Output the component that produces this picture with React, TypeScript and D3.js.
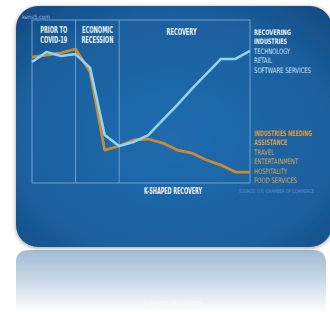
import React from 'react';
import * as d3 from 'd3';

// periods: 0-3 prior to covid, 3-6 recession, 6-15 recovery
const periods = d3.range(16);
const recovering = [74.2, 80.4, 77.9, 79.1, 70.6, 29.4, 22.7, 25.2, 29.4, 38.7, 47.9, 57.7, 66.9, 76.1, 76.1, 81.0];
const needing = [77.3, 78.5, 79.8, 82.2, 68.1, 20.2, 22.7, 26.4, 27.0, 24.5, 20.2, 18.4, 14.1, 11.0, 6.7, 6.7];
const phaseBreaks = [3, 6];
const phases = [
	{ lines: ['PRIOR TO', 'COVID-19'], from: 0, to: 3, widths: [27, 27] },
	{ lines: ['ECONOMIC', 'RECESSION'], from: 3, to: 6, widths: [31, 32] },
	{ lines: ['RECOVERY'], from: 6, to: 15, widths: [30] },
];
const upLegend = [
	{ text: 'RECOVERING', bold: true, w: 37 },
	{ text: 'INDUSTRIES', bold: true, w: 33 },
	{ text: 'TECHNOLOGY', bold: false, w: 36 },
	{ text: 'RETAIL', bold: false, w: 18 },
	{ text: 'SOFTWARE SERVICES', bold: false, w: 57 },
];
const downLegend = [
	{ text: 'INDUSTRIES NEEDING', bold: true, w: 58 },
	{ text: 'ASSISTANCE', bold: true, w: 33 },
	{ text: 'TRAVEL', bold: false, w: 20 },
	{ text: 'ENTERTAINMENT', bold: false, w: 44 },
	{ text: 'HOSPITALITY', bold: false, w: 33 },
	{ text: 'FOOD SERVICES', bold: false, w: 43 },
];

const font = '"Liberation Sans Narrow", "DejaVu Sans Condensed", sans-serif';

export default function App() {
	const x = d3.scaleLinear().domain([0, 15]).range([32, 250]);
	const y = d3.scaleLinear().domain([0, 100]).range([183, 20]);
	const line = d3
		.line<number>()
		.x((d, i) => x(periods[i]))
		.y((d) => y(d));

	return (
		<svg
			width={330}
			height={312}
			style={{ position: 'absolute', left: 0, top: 0, background: '#fff' }}
		>
			<defs>
				<radialGradient id="card" cx="0.5" cy="0.55" r="0.7">
					<stop offset="0" stopColor="#206cae" />
					<stop offset="0.7" stopColor="#1b609f" />
					<stop offset="1" stopColor="#144d83" />
				</radialGradient>
				<linearGradient id="refl" x1="0" y1="0" x2="0" y2="1">
					<stop offset="0" stopColor="#a2bcd5" />
					<stop offset="0.5" stopColor="#cad9e8" />
					<stop offset="1" stopColor="#ffffff" />
				</linearGradient>
				<filter id="shadow" x="-10%" y="-10%" width="120%" height="120%">
					<feDropShadow dx="0" dy="1" stdDeviation="2" floodColor="#000" floodOpacity="0.4" />
				</filter>
			</defs>

			{/* reflection */}
			<path
				d="M16,262 Q16,250 30,250 L312,250 Q326,250 326,262 L326,312 L16,312 Z"
				fill="url(#refl)"
			/>
			<text x={173} y={305} textAnchor="middle" fontFamily={font} fontSize={6} fill="#fff" opacity={0.6}>
				K-SHAPED RECOVERY
			</text>

			{/* card */}
			<rect x={16} y={6} width={316} height={241} rx={22} fill="url(#card)" filter="url(#shadow)" />

			<text x={22} y={19} fontFamily={font} fontSize={6} fill="#8fb8dc" textLength={28} lengthAdjust="spacingAndGlyphs">
				kens5.com
			</text>

			{/* frame */}
			<rect x={x(0)} y={y(100)} width={x(15) - x(0)} height={y(0) - y(100)} fill="none" stroke="#6f9fcf" strokeWidth={1} />
			{phaseBreaks.map((b) => (
				<line key={b} x1={x(b)} x2={x(b)} y1={y(100)} y2={y(0)} stroke="#6f9fcf" strokeWidth={1} />
			))}

			{phases.map((p) =>
				p.lines.map((t, i) => (
					<text
						key={t}
						x={(x(p.from) + x(p.to)) / 2 + (p.from === 6 ? -3 : 0)}
						y={33 + i * 10 + (p.from === 6 ? 2 : 0)}
						textAnchor="middle"
						fontFamily={font}
						fontWeight="bold"
						fontSize={8}
						fill="#e8eff6"
						textLength={p.widths[i]}
						lengthAdjust="spacingAndGlyphs"
					>
						{t}
					</text>
				))
			)}

			<path d={line(needing) || ''} fill="none" stroke="#c98b2f" strokeWidth={2.8} strokeLinejoin="round" />
			<path d={line(recovering) || ''} fill="none" stroke="#93d3f3" strokeWidth={2.6} strokeLinejoin="round" />

			{upLegend.map((d, i) => (
				<text
					key={d.text}
					x={254}
					y={35 + i * 9.4}
					fontFamily={font}
					fontWeight={d.bold ? 'bold' : 'normal'}
					fontSize={7.5}
					fill={d.bold ? '#e6eef6' : '#cfe3f3'}
					textLength={d.w}
					lengthAdjust="spacingAndGlyphs"
				>
					{d.text}
				</text>
			))}
			{downLegend.map((d, i) => (
				<text
					key={d.text}
					x={254}
					y={136 + i * 9.4}
					fontFamily={font}
					fontWeight={d.bold ? 'bold' : 'normal'}
					fontSize={7.5}
					fill={d.bold ? '#d99a3c' : '#d6a24e'}
					textLength={d.w}
					lengthAdjust="spacingAndGlyphs"
				>
					{d.text}
				</text>
			))}

			<text x={173} y={194} textAnchor="middle" fontFamily={font} fontWeight="bold" fontSize={8} fill="#eef3f8" textLength={58} lengthAdjust="spacingAndGlyphs">
				K-SHAPED RECOVERY
			</text>
			<text x={239} y={193} fontFamily={font} fontSize={5} fill="#5d8fc0" textLength={75} lengthAdjust="spacingAndGlyphs">
				SOURCE: U.S. CHAMBER OF COMMERCE
			</text>
		</svg>
	);
}
